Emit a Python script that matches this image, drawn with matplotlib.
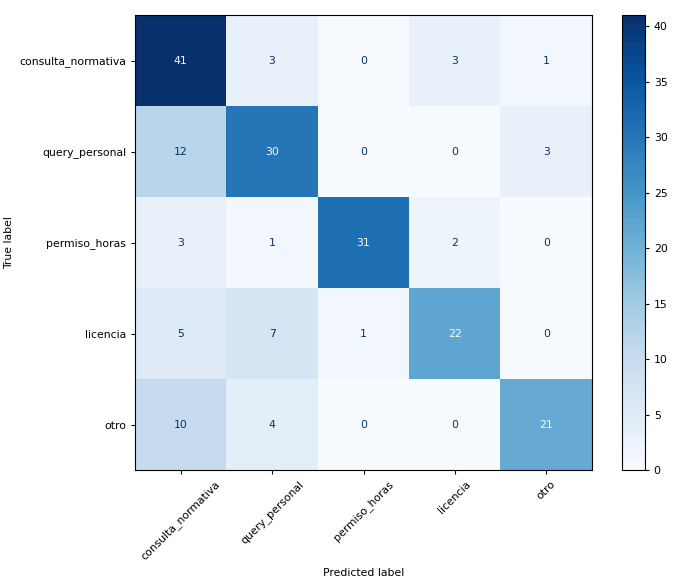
import matplotlib
matplotlib.use("Agg")
import matplotlib.pyplot as plt
import numpy as np

labels = ["consulta_normativa", "query_personal", "permiso_horas", "licencia", "otro"]
row_consulta = [41, 3, 0, 3, 1]
row_query = [12, 30, 0, 0, 3]
row_permiso = [3, 1, 31, 2, 0]
row_licencia = [5, 7, 1, 22, 0]
row_otro = [10, 4, 0, 0, 21]

cm = np.array([row_consulta, row_query, row_permiso, row_licencia, row_otro])
n = len(labels)

# reference looks like a bigger figure scaled down, so shrink text/ticks
plt.rcParams["font.size"] = 7.8
plt.rcParams["xtick.major.size"] = 2.8
plt.rcParams["ytick.major.size"] = 2.8
plt.rcParams["axes.linewidth"] = 0.8

fig = plt.figure(figsize=(6.74, 5.83), dpi=100)
ax = fig.add_axes([135 / 674, 113 / 583, 457 / 674, 455 / 583])
cax = fig.add_axes([622 / 674, 113 / 583, 23 / 674, 455 / 583])

cmap = plt.cm.Blues
im = ax.imshow(cm, interpolation="nearest", cmap=cmap, aspect="auto")
fig.colorbar(im, cax=cax)

thresh = (cm.max() + cm.min()) / 2.0
cmap_min, cmap_max = cmap(0.0), cmap(1.0)
for i in range(n):
    for j in range(n):
        color = cmap_min if cm[i, j] > thresh else cmap_max
        ax.text(j, i, str(cm[i, j]), ha="center", va="center", color=color)

ax.set_xticks(range(n))
ax.set_yticks(range(n))
ax.set_xticklabels(labels, rotation=45, ha="center")
ax.set_yticklabels(labels)
ax.set_xlabel("Predicted label")
ax.set_ylabel("True label")
ax.set_xlim(-0.5, n - 0.5)
ax.set_ylim(n - 0.5, -0.5)

fig.savefig("out.png", dpi=100)
